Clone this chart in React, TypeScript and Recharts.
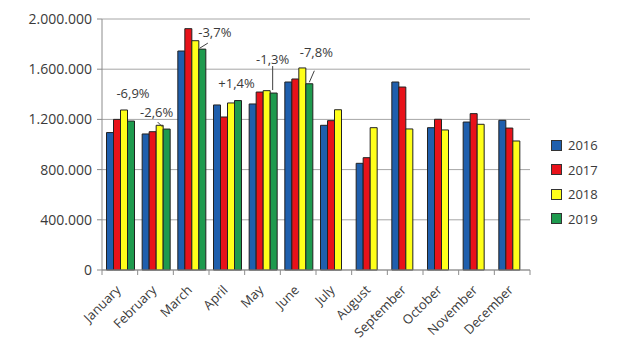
import React from 'react';
import { BarChart, Bar, XAxis, YAxis, CartesianGrid, Legend, LabelList } from 'recharts';

const MONTHS = ['January', 'February', 'March', 'April', 'May', 'June', 'July', 'August', 'September', 'October', 'November', 'December'];
const V2016 = [1095000, 1084000, 1745000, 1315000, 1323000, 1498000, 1153000, 850000, 1498000, 1134000, 1179000, 1193000];
const V2017 = [1200000, 1102000, 1923000, 1219000, 1418000, 1522000, 1190000, 895000, 1458000, 1201000, 1246000, 1131000];
const V2018 = [1275000, 1153000, 1827000, 1331000, 1429000, 1610000, 1277000, 1134000, 1124000, 1116000, 1161000, 1028000];
const V2019 = [1187000, 1123000, 1760000, 1350000, 1410000, 1484000, null, null, null, null, null, null];
const CHANGE_LABELS = ['-6,9%', '-2,6%', '-3,7%', '+1,4%', '-1,3%', '-7,8%'];
const Y_TICKS = [0, 400000, 800000, 1200000, 1600000, 2000000];
const SERIES = ['2016', '2017', '2018', '2019'];
const COLORS = ['#1f5fad', '#e8121a', '#ffff1a', '#1e9a4e'];

// layout of the change annotations, relative to the top centre of the 2019 bar
const LABEL_LAYOUT = [
  { dx: 2, dy: -23, line: null },
  { dx: -10, dy: -12, line: [-9, -7, -4, -2] },
  { dx: 12.5, dy: -12, line: [5.5, -6, -2.5, -1] },
  { dx: -1.5, dy: -13, line: null },
  { dx: -1, dy: -29, line: [-1, -27, -1, -3] },
  { dx: 7, dy: -27, line: [5, -13, 0, -1.5] },
];

const data = MONTHS.map((m, i) => ({
  month: m,
  y2016: V2016[i],
  y2017: V2017[i],
  y2018: V2018[i],
  y2019: V2019[i],
  change: CHANGE_LABELS[i] ?? null,
}));

const FONT = '"Open Sans", sans-serif';
const TEXT = '#3a3a3a';
const AXIS = '#8c8c8c';

const fmt = (v: number) => String(v).replace(/\B(?=(\d{3})+(?!\d))/g, '.');

const MonthTick = (props: any) => {
  const { x, y, payload, index, visibleTicksCount } = props;
  const half = payload.offset ?? 0;
  const isLast = index === visibleTicksCount - 1;
  return (
    <g>
      <line x1={x - half} y1={y} x2={x - half} y2={y + 5} stroke={AXIS} strokeWidth={1} />
      {isLast && <line x1={x + half} y1={y} x2={x + half} y2={y + 5} stroke={AXIS} strokeWidth={1} />}
      <g transform={`translate(${x - 1},${y + 18})`}>
        <text x={0} y={0} dy={4} textAnchor="end" transform="rotate(-45)" fontFamily={FONT} fontSize={13} fill={TEXT}>
          {payload.value}
        </text>
      </g>
    </g>
  );
};

const ChangeLabel = (props: any) => {
  const { x, y, width, index, value } = props;
  if (value == null || index >= LABEL_LAYOUT.length) return null;
  const L = LABEL_LAYOUT[index];
  const cx = x + width / 2;
  return (
    <g>
      {L.line && (
        <line x1={cx + L.line[0]} y1={y + L.line[1]} x2={cx + L.line[2]} y2={y + L.line[3]} stroke="#404040" strokeWidth={1} />
      )}
      <text x={cx + L.dx} y={y + L.dy} textAnchor="middle" fontFamily={FONT} fontSize={13} fill={TEXT}>
        {value}
      </text>
    </g>
  );
};

const LegendContent = () => (
  <div style={{ fontFamily: FONT, fontSize: 13, color: TEXT }}>
    {SERIES.map((s, i) => (
      <div key={s} style={{ display: 'flex', alignItems: 'center', height: 24.5 }}>
        <span style={{ display: 'inline-block', width: 9, height: 9, background: COLORS[i], border: '1px solid #333', marginRight: 6 }} />
        <span>{s}</span>
      </div>
    ))}
  </div>
);

export default function App() {
  return (
    <div style={{ position: 'absolute', left: 0, top: 0, background: '#fff' }}>
      <BarChart
        width={624}
        height={354}
        data={data}
        margin={{ top: 19, right: 94, bottom: 0, left: 0 }}
        barCategoryGap={4.5}
        barGap={0}
      >
        <CartesianGrid vertical={false} stroke="#a6a6a6" strokeWidth={1} />
        <XAxis
          dataKey="month"
          interval={0}
          height={84}
          tickLine={false}
          tickSize={0}
          tickMargin={0}
          stroke={AXIS}
          tick={<MonthTick />}
        />
        <YAxis
          width={102}
          domain={[0, 2000000]}
          ticks={Y_TICKS}
          interval={0}
          tickFormatter={fmt}
          stroke={AXIS}
          tickSize={5}
          tickMargin={5}
          tick={{ fontFamily: FONT, fontSize: 14, fill: TEXT }}
        />
        <Legend layout="vertical" align="center" verticalAlign="middle" wrapperStyle={{ left: 551, top: 133, width: 70 }} content={<LegendContent />} />
        <Bar dataKey="y2016" name="2016" fill={COLORS[0]} stroke="#222" strokeWidth={1} isAnimationActive={false} />
        <Bar dataKey="y2017" name="2017" fill={COLORS[1]} stroke="#222" strokeWidth={1} isAnimationActive={false} />
        <Bar dataKey="y2018" name="2018" fill={COLORS[2]} stroke="#222" strokeWidth={1} isAnimationActive={false} />
        <Bar dataKey="y2019" name="2019" fill={COLORS[3]} stroke="#222" strokeWidth={1} isAnimationActive={false}>
          <LabelList dataKey="change" content={<ChangeLabel />} />
        </Bar>
      </BarChart>
    </div>
  );
}
